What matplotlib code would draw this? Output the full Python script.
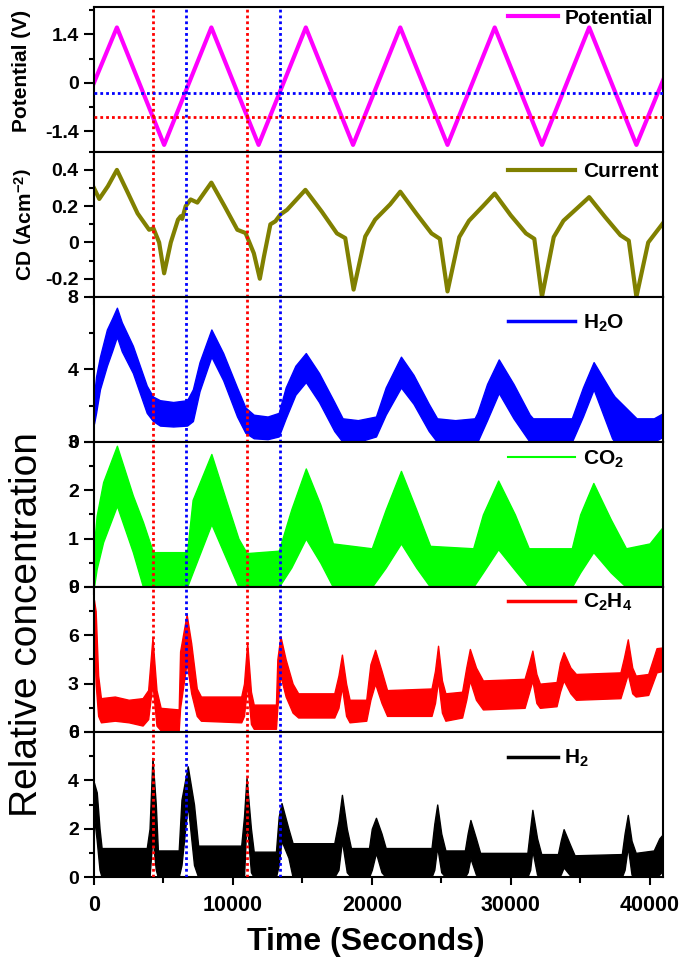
import matplotlib
matplotlib.use("Agg")
import matplotlib.pyplot as plt
from matplotlib.lines import Line2D
from matplotlib.ticker import MultipleLocator, FormatStrFormatter

plt.rcParams["font.family"] = ["Liberation Sans", "DejaVu Sans"]
plt.rcParams["font.weight"] = "bold"
plt.rcParams["mathtext.fontset"] = "custom"
plt.rcParams["mathtext.rm"] = "Liberation Sans:bold"
plt.rcParams["mathtext.bf"] = "Liberation Sans:bold"
plt.rcParams["mathtext.it"] = "Liberation Sans:bold"
plt.rcParams["axes.linewidth"] = 1.5
plt.rcParams["axes.unicode_minus"] = False

# ===============================
# DATA
# ===============================
# potential sweep vertices (s, V)
pot_t = [0, 1650, 5050, 8450, 11850, 15250, 18650, 22050, 25450, 28850, 32250, 35650, 39050, 41000]
pot_v = [0, 1.6, -1.8, 1.6, -1.8, 1.6, -1.8, 1.6, -1.8, 1.6, -1.8, 1.6, -1.8, 0.1]

# current density (A cm^-2)
cd_t = [0, 380, 1000, 1650, 2400, 3140, 3970, 4280, 4690, 5050, 5530, 6050, 6250, 6350, 6600,
        6960, 7440, 8450, 9400, 10320, 10910, 11510, 11940, 12230, 12700, 13060, 13420, 13900,
        15220, 16400, 17490, 18090, 18690, 19530, 20240, 21320, 22050, 23200, 24300, 24900,
        25450, 26300, 27000, 28000, 28850, 30000, 31100, 31700, 32250, 33100, 33800, 34800,
        35650, 36800, 37900, 38500, 39050, 39900, 40500, 41000]
cd_v = [0.30, 0.24, 0.31, 0.40, 0.28, 0.16, 0.07, 0.078, 0.0, -0.17, 0.0, 0.126, 0.145, 0.13, 0.2,
        0.237, 0.22, 0.33, 0.2, 0.07, 0.052, -0.06, -0.2, -0.08, 0.1, 0.117, 0.154, 0.18,
        0.29, 0.17, 0.05, 0.024, -0.26, 0.033, 0.126, 0.21, 0.28, 0.16, 0.05, 0.02,
        -0.27, 0.03, 0.12, 0.2, 0.27, 0.15, 0.05, 0.02, -0.30, 0.03, 0.12, 0.19,
        0.25, 0.14, 0.04, 0.01, -0.30, 0.0, 0.06, 0.11]

# gas signals: noisy bands given as time, upper edge, lower edge
h2o_t = [0, 150, 430, 930, 1300, 1650, 2000, 2800, 3800, 4250, 4750, 5700, 6700, 7120, 7600, 8450,
         9300, 10300, 10900, 11500, 12500, 13300, 13800, 14500, 15250, 16200, 17300, 17900, 19000,
         20300, 21000, 22100, 23000, 24100, 24700, 26000, 27400, 27600, 28300, 29140, 30200, 31370,
         31600, 34400, 35200, 35970, 37300, 37480, 39060, 40300, 41000]
h2o_hi = [2.5, 3.6, 4.7, 6.2, 6.8, 7.4, 6.6, 5.3, 3.1, 2.5, 2.3, 2.2, 2.3, 2.9, 4.4, 6.2,
          4.9, 3.0, 1.9, 1.5, 1.4, 1.6, 3.0, 4.2, 4.9, 3.8, 2.2, 1.3, 1.2,
          1.4, 3.0, 4.7, 3.7, 2.1, 1.3, 1.2, 1.3, 1.6, 3.2, 4.55, 3.2, 1.5,
          1.3, 1.3, 3.0, 4.4, 2.7, 2.5, 1.3, 1.3, 1.6]
h2o_lo = [1.0, 1.6, 2.9, 4.2, 5.0, 5.8, 5.0, 3.8, 1.6, 1.15, 0.9, 0.85, 0.9, 1.15, 2.8, 4.7,
          3.4, 1.4, 0.5, 0.2, 0.15, 0.3, 1.3, 2.6, 3.3, 2.2, 0.6, 0.0, 0.0,
          0.3, 1.5, 3.0, 2.1, 0.6, 0.0, 0.0, 0.0, 0.0, 1.2, 2.7, 1.3, 0.0,
          0.0, 0.0, 1.4, 2.9, 0.2, 0.0, 0.0, 0.0, 0.3]

co2_t = [0, 190, 660, 1650, 2800, 3530, 4250, 6700, 7100, 8450, 9500, 10400, 11000, 13300, 14200,
         15250, 16300, 17200, 20000, 21000, 22100, 23200, 24200, 27300, 28000, 29100, 30300,
         31300, 34400, 35000, 35950, 37200, 38300, 40000, 41000]
co2_hi = [0.85, 1.47, 2.17, 2.92, 1.89, 1.34, 0.72, 0.72, 1.8, 2.75, 1.8, 1.0, 0.7, 0.75, 1.6,
          2.45, 1.7, 0.9, 0.8, 1.6, 2.4, 1.6, 0.85, 0.8, 1.5, 2.2, 1.5,
          0.8, 0.8, 1.5, 2.15, 1.4, 0.8, 0.9, 1.26]
co2_lo = [0.0, 0.37, 0.93, 1.68, 0.72, 0.0, 0.0, 0.0, 0.3, 1.3, 0.6, 0.0, 0.0, 0.0, 0.4,
          1.0, 0.5, 0.0, 0.0, 0.4, 0.9, 0.4, 0.0, 0.0, 0.3, 0.78, 0.35,
          0.0, 0.0, 0.3, 0.72, 0.3, 0.0, 0.0, 0.0]

c2h4_t = [0, 120, 300, 500, 1500, 2500, 3500, 3900, 4210, 4500, 4800, 6100, 6200, 6670, 7000, 7400,
          7700, 10600, 10800, 11030, 11300, 11500, 13100, 13200, 13420, 13800, 14300, 14700, 17300,
          17600, 17850, 18150, 18400, 19600, 19900, 20240, 20700, 21100, 24300, 24550, 24770, 25050,
          25300, 26500, 26800, 27060, 27500, 28000, 31000, 31300, 31560, 31850, 32100, 33300, 33550,
          33810, 34300, 34700, 37900, 38150, 38430, 38750, 39000, 39900, 40500, 41000]
c2h4_hi = [8.2, 7.5, 3.5, 2.1, 2.2, 2.0, 2.1, 2.6, 5.85, 2.6, 1.5, 1.4, 5.0, 7.3, 5.5, 2.7,
           2.2, 2.2, 3.0, 5.55, 2.5, 1.7, 1.7, 4.5, 5.95, 4.5, 3.0, 2.4, 2.4,
           3.5, 4.8, 3.0, 2.0, 2.0, 4.2, 5.1, 3.8, 2.6, 2.7, 3.8, 5.35, 3.2,
           2.4, 2.5, 4.0, 5.15, 4.0, 3.2, 3.3, 4.2, 5.05, 3.6, 3.0, 3.1, 4.3,
           4.95, 4.0, 3.6, 3.7, 4.6, 5.75, 4.0, 3.5, 3.6, 5.2, 5.25]
c2h4_lo = [6.0, 3.0, 1.0, 0.6, 0.7, 0.6, 0.4, 0.8, 3.0, 0.4, 0.1, 0.1, 1.5, 4.3, 2.4, 1.0,
           0.7, 0.6, 1.0, 3.0, 0.5, 0.2, 0.2, 1.5, 3.5, 2.2, 1.2, 0.9, 0.9,
           1.5, 2.8, 1.0, 0.6, 0.7, 2.0, 3.0, 1.8, 1.0, 1.0, 1.8, 3.2, 1.2,
           0.7, 0.9, 2.0, 3.2, 2.0, 1.4, 1.5, 2.4, 3.2, 1.8, 1.5, 1.6, 2.5,
           3.2, 2.4, 2.0, 2.1, 2.8, 3.6, 2.4, 2.2, 2.3, 3.7, 3.8]

h2_t = [0, 200, 400, 550, 3800, 4000, 4210, 4450, 4600, 6100, 6300, 6750, 7200, 7500, 10600, 10800,
        10980, 11300, 11500, 13100, 13300, 13500, 14000, 14300, 17300, 17600, 17850, 18200, 18500,
        19800, 20000, 20300, 20700, 21000, 24300, 24500, 24710, 25000, 25300, 26700, 26900, 27100,
        27500, 27800, 31200, 31400, 31560, 31900, 32200, 33400, 33600, 33810, 34300, 34600, 38000,
        38200, 38430, 38700, 39000, 40300, 40700, 41000]
h2_hi = [3.9, 3.5, 2.0, 1.2, 1.2, 2.0, 4.93, 3.0, 1.1, 1.1, 3.2, 4.58, 3.0, 1.3, 1.3, 2.5,
         4.1, 2.0, 1.05, 1.05, 2.5, 3.06, 2.0, 1.4, 1.4, 2.3, 3.4, 2.0, 1.2,
         1.2, 2.0, 2.45, 1.8, 1.2, 1.2, 2.2, 3.0, 1.8, 1.1, 1.1, 1.8, 2.36,
         1.6, 1.0, 1.0, 2.0, 2.78, 1.6, 0.95, 0.95, 1.5, 1.98, 1.3, 0.9, 0.95,
         1.8, 2.57, 1.5, 1.0, 1.1, 1.6, 1.8]
h2_lo = [2.5, 1.5, 0.3, 0.0, 0.0, 0.0, 1.67, 0.3, 0.0, 0.0, 0.5, 3.0, 0.5, 0.0, 0.0, 0.0,
         2.36, 0.2, 0.0, 0.0, 0.5, 1.5, 0.8, 0.0, 0.0, 0.3, 1.5, 0.2, 0.0,
         0.0, 0.3, 1.0, 0.2, 0.0, 0.0, 0.3, 1.25, 0.2, 0.0, 0.0, 0.2, 0.78,
         0.1, 0.0, 0.0, 0.3, 1.1, 0.1, 0.0, 0.0, 0.1, 0.4, 0.05, 0.0, 0.0,
         0.3, 1.25, 0.1, 0.0, 0.0, 0.1, 0.3]

# guide lines
red_times = [4230, 10990]
blue_times = [6600, 13420]
red_level = -1.0
blue_level = -0.3

# ===============================
# FIGURE
# ===============================
fig, axes = plt.subplots(6, 1, sharex=True, figsize=(6.85, 9.64), dpi=100)
fig.subplots_adjust(left=0.1372, right=0.9686, top=0.993, bottom=0.0902, hspace=0)
ax_pot, ax_cd, ax_h2o, ax_co2, ax_c2h4, ax_h2 = axes

ax_pot.plot(pot_t, pot_v, color="#FF00FF", lw=3)
ax_cd.plot(cd_t, cd_v, color="#808000", lw=3, solid_joinstyle="round")

bands = [
    (ax_h2o, h2o_t, h2o_hi, h2o_lo, "#0000FF"),
    (ax_co2, co2_t, co2_hi, co2_lo, "#00FF00"),
    (ax_c2h4, c2h4_t, c2h4_hi, c2h4_lo, "#FF0000"),
    (ax_h2, h2_t, h2_hi, h2_lo, "#000000"),
]
for ax, t, hi, lo, col in bands:
    ax.fill_between(t, lo, hi, color=col, lw=1, edgecolor=col)

# ===============================
# AXES
# ===============================
ylims = [(-2.0, 2.2), (-0.3, 0.5), (0, 8), (0, 3), (0, 9), (0, 6)]
majors = [1.4, 0.2, 4, 1, 3, 2]
minors = [0.7, 0.1, 2, 0.5, 1.5, 1]
for ax, yl, mj, mn in zip(axes, ylims, majors, minors):
    ax.set_xlim(0, 41000)
    ax.set_ylim(*yl)
    ax.yaxis.set_major_locator(MultipleLocator(mj))
    ax.yaxis.set_minor_locator(MultipleLocator(mn))
    ax.yaxis.set_major_formatter(FormatStrFormatter("%g"))
    ax.tick_params(axis="y", which="major", direction="out", length=7, width=1.5,
                   labelsize=14, pad=4)
    ax.tick_params(axis="y", which="minor", direction="out", length=3.5, width=1.5)
    ax.tick_params(axis="x", which="major", direction="out", length=6, width=1.5,
                   labelsize=15.5, pad=7)
    ax.tick_params(axis="x", which="minor", direction="out", length=4, width=1.5)

ax_h2.xaxis.set_major_locator(MultipleLocator(10000))
ax_h2.xaxis.set_minor_locator(MultipleLocator(5000))
for lab in ax_h2.get_xticklabels() + [l for a in axes for l in a.get_yticklabels()]:
    lab.set_fontweight("bold")

# dotted guide lines
for ax in axes:
    for x in red_times:
        ax.axvline(x, color="#FF0000", lw=2, ls=(0, (1, 1.1)), zorder=5)
    for x in blue_times:
        ax.axvline(x, color="#0000FF", lw=2, ls=(0, (1, 1.1)), zorder=5)
ax_pot.axhline(blue_level, color="#0000FF", lw=2, ls=(0, (1, 1.1)), zorder=5)
ax_pot.axhline(red_level, color="#FF0000", lw=2, ls=(0, (1, 1.1)), zorder=5)

# ===============================
# LEGENDS
# ===============================
legends = [
    (ax_pot, "#FF00FF", 3, "Potential", 0.922, 2.4, 0.3),
    (ax_cd, "#808000", 3, "Current", 0.862, 3.2, 0.4),
    (ax_h2o, "#0000FF", 2.5, r"$\mathbf{H_2O}$", 0.82, 3.2, 0.4),
    (ax_co2, "#00FF00", 1.5, r"$\mathbf{CO_2}$", 0.883, 3.2, 0.4),
    (ax_c2h4, "#FF0000", 2.5, r"$\mathbf{C_2H_4}$", 0.893, 3.2, 0.4),
    (ax_h2, "#000000", 2.5, r"$\mathbf{H_2}$", 0.817, 2.4, 0.3),
]
for ax, col, lw, lab, yy, hl, tp in legends:
    ax.legend([Line2D([], [], color=col, lw=lw)], [lab], loc="center left",
              bbox_to_anchor=(0.727, yy), frameon=False, borderpad=0, borderaxespad=0,
              handlelength=hl, handletextpad=tp, prop={"weight": "bold", "size": 15})

# ===============================
# LABELS
# ===============================
ax_pot.set_ylabel("Potential (V)", fontsize=15, fontweight="bold")
ax_pot.yaxis.set_label_coords(-0.111, 0.56)
ax_cd.set_ylabel(r"$\mathbf{CD}\ \left(\mathbf{Acm^{-2}}\right)$", fontsize=15)
ax_cd.yaxis.set_label_coords(-0.103, 0.5)

fig.text(27 / 685, 1 - 625 / 964, "Relative concentration", rotation=90,
         ha="center", va="center", fontsize=28, fontweight="normal")
fig.text(0.534, 0.0228, "Time (Seconds)", ha="center", va="center",
         fontsize=23, fontweight="bold")

fig.savefig("out.png", dpi=100)
